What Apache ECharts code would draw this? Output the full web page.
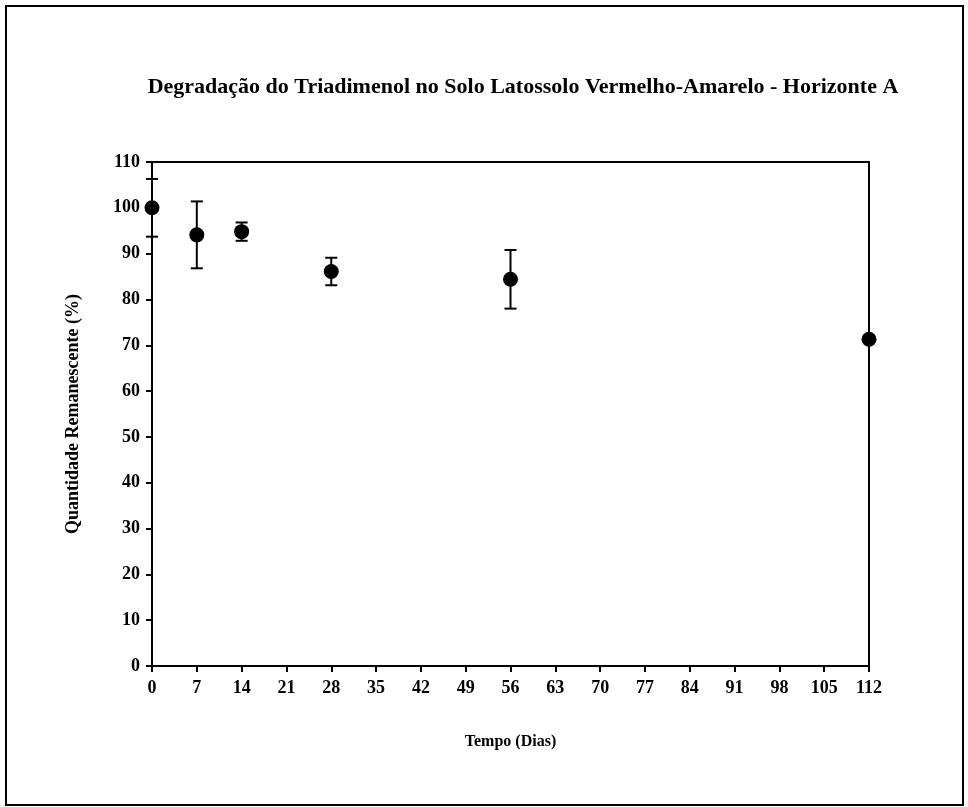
<!DOCTYPE html>
<html>
<head>
<meta charset="utf-8">
<script src="https://cdn.jsdelivr.net/npm/echarts@6/dist/echarts.min.js"></script>
<style>
html,body{margin:0;padding:0;background:#fff;}
#c{width:968px;height:807px;}
</style>
</head>
<body>
<div id="c"></div>
<script>
var days = [0, 7, 14, 28, 56, 112];
var remaining = [100.0, 94.1, 94.8, 86.1, 84.4, 71.3];
var errors = [6.3, 7.3, 2.0, 3.0, 6.4, 0];
var xTicks = [0, 7, 14, 21, 28, 35, 42, 49, 56, 63, 70, 77, 84, 91, 98, 105, 112];
var yTicks = [0, 10, 20, 30, 40, 50, 60, 70, 80, 90, 100, 110];

var FONT = '"Liberation Serif", "Times New Roman", serif';
var chart = echarts.init(document.getElementById('c'));

var points = days.map(function (d, i) { return [d, remaining[i]]; });
var errData = days.map(function (d, i) { return [d, remaining[i] - errors[i], remaining[i] + errors[i]]; });

chart.setOption({
  animation: false,
  backgroundColor: '#fff',
  title: {
    text: 'Degradação do Triadimenol no Solo Latossolo Vermelho-Amarelo - Horizonte A',
    left: 518, top: 71, textAlign: 'center',
    textStyle: { fontFamily: FONT, fontWeight: 'bold', fontSize: 22, color: '#000' }
  },
  graphic: [{
    type: 'rect', shape: { x: 6, y: 6, width: 957, height: 799 },
    style: { fill: 'none', stroke: '#000', lineWidth: 2 }, silent: true
  }],
  grid: { left: 152, right: 99, top: 162, bottom: 141, show: true, borderColor: '#000', borderWidth: 2, backgroundColor: 'transparent' },
  xAxis: {
    type: 'value', min: 0, max: 112, interval: 7,
    name: 'Tempo (Dias)', nameLocation: 'middle', nameGap: 68,
    nameTextStyle: { fontFamily: FONT, fontWeight: 'bold', fontSize: 16, color: '#000' },
    axisLine: { show: true, lineStyle: { color: '#000', width: 2 } },
    axisTick: { show: true, length: 6, inside: false, lineStyle: { color: '#000', width: 2 } },
    axisLabel: { fontFamily: FONT, fontWeight: 'bold', fontSize: 18, color: '#000', margin: 13,
      formatter: function (v) { return xTicks.indexOf(v) >= 0 ? String(v) : ''; } },
    splitLine: { show: false }
  },
  yAxis: {
    type: 'value', min: 0, max: 110, interval: 10,
    name: 'Quantidade Remanescente (%)', nameLocation: 'middle', nameGap: 70, nameRotate: 90,
    nameTextStyle: { fontFamily: FONT, fontWeight: 'bold', fontSize: 18, color: '#000' },
    axisLine: { show: true, lineStyle: { color: '#000', width: 2 } },
    axisTick: { show: true, length: 6, inside: false, lineStyle: { color: '#000', width: 2 } },
    axisLabel: { fontFamily: FONT, fontWeight: 'bold', fontSize: 18, color: '#000', margin: 12,
      formatter: function (v) { return yTicks.indexOf(v) >= 0 ? String(v) : ''; } },
    splitLine: { show: false }
  },
  series: [{
    type: 'custom',
    data: errData,
    renderItem: function (params, api) {
      var x = api.value(0), lo = api.value(1), hi = api.value(2);
      if (hi - lo <= 0) return null;
      var pLo = api.coord([x, lo]), pHi = api.coord([x, hi]);
      var w = 6;
      var st = { stroke: '#000', lineWidth: 2 };
      return { type: 'group', children: [
        { type: 'line', shape: { x1: pLo[0], y1: pLo[1], x2: pHi[0], y2: pHi[1] }, style: st },
        { type: 'line', shape: { x1: pLo[0] - w, y1: pLo[1], x2: pLo[0] + w, y2: pLo[1] }, style: st },
        { type: 'line', shape: { x1: pHi[0] - w, y1: pHi[1], x2: pHi[0] + w, y2: pHi[1] }, style: st }
      ]};
    },
    z: 3
  }, {
    type: 'scatter',
    data: points,
    symbol: 'circle', symbolSize: 15,
    itemStyle: { color: '#000', opacity: 1 },
    z: 4
  }]
});
</script>
</body>
</html>
